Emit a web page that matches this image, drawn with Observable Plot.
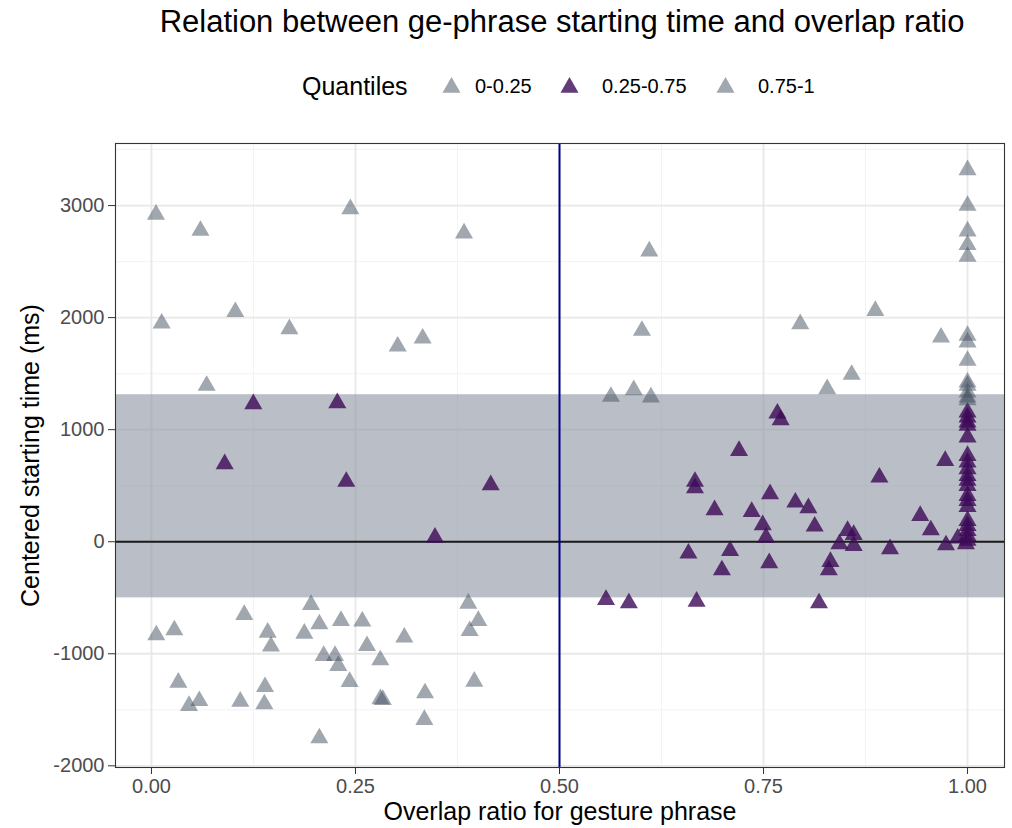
<!DOCTYPE html>
<html>
<head>
<meta charset="utf-8">
<script src="https://cdn.jsdelivr.net/npm/d3@7"></script>
<script src="https://cdn.jsdelivr.net/npm/@observablehq/plot@0.6"></script>
<style>
  html, body { margin: 0; padding: 0; background: #fff; }
  body { width: 1012px; height: 828px; position: relative; overflow: hidden; font-family: "Liberation Sans", Arial, sans-serif; }
  #title { position: absolute; left: 0; top: 4px; width: 1012px; padding-left: 112px; box-sizing: border-box; text-align: center; font-size: 31px; line-height: 36px; color: #000; }
  #legend { position: absolute; left: 0; top: 68px; width: 1012px; height: 36px; }
  #legend span { position: absolute; line-height: 36px; top: 0; white-space: nowrap; }
  #legend svg { position: absolute; top: 8px; }
  #chart { position: absolute; left: 0; top: 120px; }
</style>
</head>
<body>
<div id="title"></div>
<div id="legend"></div>
<div id="chart"></div>
<script>
// ---- data ----
const titleText = "Relation between ge-phrase starting time and overlap ratio";
const legendTitle = "Quantiles";
const quantileLabels = ["0-0.25", "0.25-0.75", "0.75-1"];
const xLabel = "Overlap ratio for gesture phrase";
const yLabel = "Centered starting time (ms)";
const xTicks = [0, 0.25, 0.5, 0.75, 1];
const xMinor = [0.125, 0.375, 0.625, 0.875];
const yTicks = [-2000, -1000, 0, 1000, 2000, 3000];
const yMinor = [-1500, -500, 500, 1500, 2500, 3500];
const bandLow = -500;   // 0.25 quantile
const bandHigh = 1312;  // 0.75 quantile
const refX = 0.5;
const refY = 0;

// quantile 0-0.25
const lowX = [0.0059,0.028,0.1137,0.1424,0.1464,0.1873,0.1955,0.2057,0.2322,0.2583,0.2641,0.211,0.2249,0.2289,0.2804,0.3098,0.3882,0.4005,0.3899,0.3956,0.2428,0.0329,0.046,0.0586,0.1088,0.1391,0.1383,0.2805,0.2835,0.3352,0.3344,0.2057];
const lowY = [-833,-789,-652,-810,-934,-819,-562,-735,-705,-711,-929,-1018,-1018,-1107,-1057,-854,-551,-705,-795,-1247,-1250,-1256,-1464,-1420,-1426,-1295,-1449,-1404,-1410,-1351,-1589,-1753];
// quantile 0.25-0.75
const midX = [0.1248,0.2277,0.0897,0.2387,0.4157,0.3474,
  0.767,0.771,0.720,0.666,0.666,0.892,0.758,0.690,0.7355,0.789,0.805,0.749,0.8127,0.753,0.853,0.8605,0.843,0.8605,0.905,0.658,0.709,0.757,0.699,0.832,0.830,0.557,0.585,0.668,0.818,0.942,0.955,0.9726,0.9736,0.988,0.998,
  1,1,1,1,1,1,1,1,1,1,1,1,1,1,1,1,1,1,1];
const midY = [1229,1238,694,536,506,38,
  1146,1086,812,536,479,574,426,283,268,351,301,149,137,38,98,62,-21,-36,-65,-104,-80,-190,-253,-179,-253,-518,-548,-533,-548,232,104,723,-30,30,-20,
  1155,1110,1065,1036,932,768,708,649,589,545,500,411,366,312,187,143,98,54,10];
// quantile 0.75-1
const highX = [0.0055,0.06,0.2437,0.383,0.0125,0.1027,0.169,0.3017,0.3323,0.0676,
  0.61,0.601,0.795,0.887,0.858,0.828,0.563,0.591,0.612,0.9675,
  1,1,1,1,1,1,1,1,1,1,1,1,1];
const highY = [2920,2777,2970,2753,1949,2051,1899,1744,1815,1393,
  2592,1884,1943,2062,1491,1363,1295,1354,1289,1824,
  3318,3000,2771,2649,2545,1839,1780,1616,1422,1393,1333,1290,1265];

// ---- styles ----
const qFill = ["#434f5f", "#3d0a58", "#434f5f"];
const qOpacity = [0.5, 0.8, 0.5];

const points = [
  ...lowX.map((x, i) => ({x, y: lowY[i], q: quantileLabels[0]})),
  ...midX.map((x, i) => ({x, y: midY[i], q: quantileLabels[1]})),
  ...highX.map((x, i) => ({x, y: highY[i], q: quantileLabels[2]}))
];
const opacityOf = q => qOpacity[quantileLabels.indexOf(q)];

document.getElementById("title").textContent = titleText;

// legend
const legend = document.getElementById("legend");
const legendPos = [
  {sym: 441, text: 475},
  {sym: 559, text: 602},
  {sym: 715, text: 758}
];
const lt = document.createElement("span");
lt.textContent = legendTitle;
lt.style.left = "302px";
lt.style.fontSize = "25px";
legend.appendChild(lt);
quantileLabels.forEach((lab, i) => {
  const s = Plot.plot({
    width: 20, height: 20, margin: 0,
    x: {domain: [0, 1], axis: null}, y: {domain: [0, 1], axis: null},
    marks: [Plot.dot([0], {x: 0.5, y: 0.45, symbol: "triangle", r: 6.7, fill: qFill[i], fillOpacity: qOpacity[i], stroke: "none"})]
  });
  s.style.left = legendPos[i].sym + "px";
  legend.appendChild(s);
  const t = document.createElement("span");
  t.textContent = lab;
  t.style.left = legendPos[i].text + "px";
  t.style.fontSize = "20px";
  legend.appendChild(t);
});

const chart = Plot.plot({
  width: 1012,
  height: 708,
  marginTop: 23,
  marginRight: 8,
  marginBottom: 61,
  marginLeft: 115,
  style: {fontFamily: "Liberation Sans, Arial, sans-serif", fontSize: "20px", background: "white", color: "#000"},
  x: {domain: [-0.0441, 1.0453]},
  y: {domain: [-2015, 3554]},
  color: {domain: quantileLabels, range: qFill},
  marks: [
    Plot.ruleX(xMinor, {stroke: "#f2f2f2", strokeWidth: 0.9}),
    Plot.ruleY(yMinor, {stroke: "#f2f2f2", strokeWidth: 0.9}),
    Plot.ruleX(xTicks, {stroke: "#e8e8e8", strokeWidth: 1.8}),
    Plot.ruleY(yTicks, {stroke: "#e8e8e8", strokeWidth: 1.8}),
    Plot.rect([{lo: bandLow, hi: bandHigh}], {y1: "lo", y2: "hi", fill: "#8c93a0", fillOpacity: 0.6}),
    Plot.ruleY([refY], {stroke: "#1a1a1a", strokeWidth: 2}),
    Plot.ruleX([refX], {stroke: "#00008b", strokeWidth: 2}),
    Plot.dot(points, {x: "x", y: "y", fill: "q", fillOpacity: d => opacityOf(d.q), symbol: "triangle", r: 6.7, stroke: "none"}),
    Plot.frame({stroke: "#333333", strokeWidth: 1.1}),
    Plot.axisX(xTicks, {tickFormat: d3.format(".2f"), tickSize: 7, tickPadding: 4, fontSize: 20, stroke: "#333333", fill: "#4d4d4d", label: null}),
    Plot.axisY(yTicks, {tickFormat: d => String(d), tickSize: 7, tickPadding: 4, fontSize: 20, stroke: "#333333", fill: "#4d4d4d", label: null}),
    Plot.text([xLabel], {frameAnchor: "bottom", dy: 44, text: d => d, fontSize: 25, fill: "#000", lineAnchor: "middle"}),
    Plot.text([yLabel], {frameAnchor: "left", dx: -85, rotate: -90, text: d => d, fontSize: 25, fill: "#000", lineAnchor: "middle", textAnchor: "middle"})
  ]
});
document.getElementById("chart").appendChild(chart);
</script>
</body>
</html>
